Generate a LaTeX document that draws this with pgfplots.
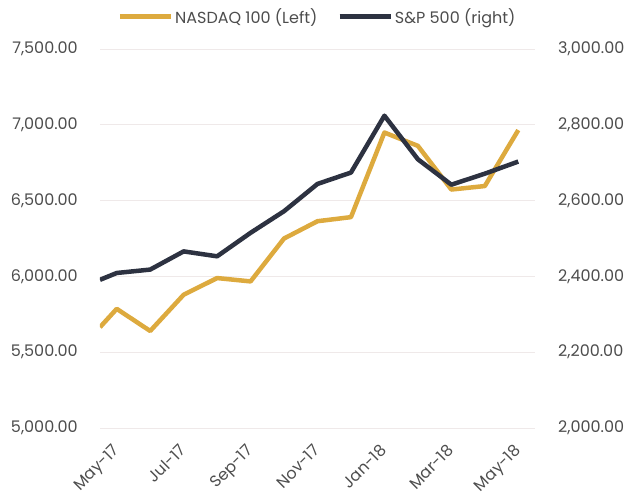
\documentclass[border=0pt]{standalone}
\usepackage{fontspec}
\setmainfont{Poppins}
\usepackage{pgfplots}
\pgfplotsset{compat=1.18}
\definecolor{cGold}{HTML}{DDAA3E}
\definecolor{cNavy}{HTML}{2D3241}
\definecolor{cText}{HTML}{4D4D4D}
\definecolor{cGrid}{HTML}{EFE9E9}

\pgfplotsset{base/.style={
  scale only axis, width=435pt, height=379pt,
  xmin=-0.5, xmax=12.5,
  axis line style={draw=none}, major tick length=0pt,
  tick label style={font=\fontsize{16}{19}\selectfont, text=cText},
  /pgf/number format/.cd, fixed, fixed zerofill, precision=2,
  1000 sep={,}, assume math mode=true,
}}

\begin{document}
\begin{tikzpicture}
% left axis: NASDAQ 100
\begin{axis}[base, name=ax,
  ymin=5000, ymax=7500, ytick={5000,5500,...,7500},
  ymajorgrids, grid style={cGrid, line width=1pt},
  xtick={0,2,...,12},
  xticklabels={May-17,Jul-17,Sep-17,Nov-17,Jan-18,Mar-18,May-18},
  xticklabel style={xshift=-5pt, yshift=-15pt, rotate=45, anchor=north east, inner sep=0pt},
  yticklabel style={inner sep=0pt, xshift=-22pt},
]
\addplot[cGold, line width=4.5pt, line join=round] coordinates {
  (-0.5,5665) (0,5786) (1,5640) (2,5879) (3,5989) (4,5967) (5,6250)
  (6,6364) (7,6391) (8,6949) (9,6861) (10,6573) (11,6596) (12,6965)
};
\end{axis}
% right axis: S&P 500
\begin{axis}[base,
  ymin=2000, ymax=3000, ytick={2000,2200,...,3000},
  axis y line*=right, xtick=\empty,
  yticklabel style={inner sep=0pt, xshift=23pt},
  legend style={at={(0.5,1)}, anchor=south, yshift=20pt, draw=none, fill=none,
    font=\fontsize{16}{19}\selectfont, text=cText,
    /tikz/every even column/.append style={column sep=18pt}},
  legend columns=2,
  legend image code/.code={\draw[#1, line width=4.5pt] (0pt,0pt) -- (51pt,0pt);},
]
\addlegendimage{cGold}
\addlegendentry{NASDAQ 100 (Left)}
\addplot[cNavy, line width=4.5pt, line join=round] coordinates {
  (-0.5,2391) (0,2409) (1,2418) (2,2466) (3,2453) (4,2515) (5,2572)
  (6,2644) (7,2674) (8,2824) (9,2709) (10,2642) (11,2671) (12,2703)
};
\addlegendentry{S\&P 500 (right)}
\end{axis}
\path ([shift={(-100pt,-66pt)}]ax.south west) rectangle ([shift={(105pt,49pt)}]ax.north east);
\end{tikzpicture}
\end{document}
